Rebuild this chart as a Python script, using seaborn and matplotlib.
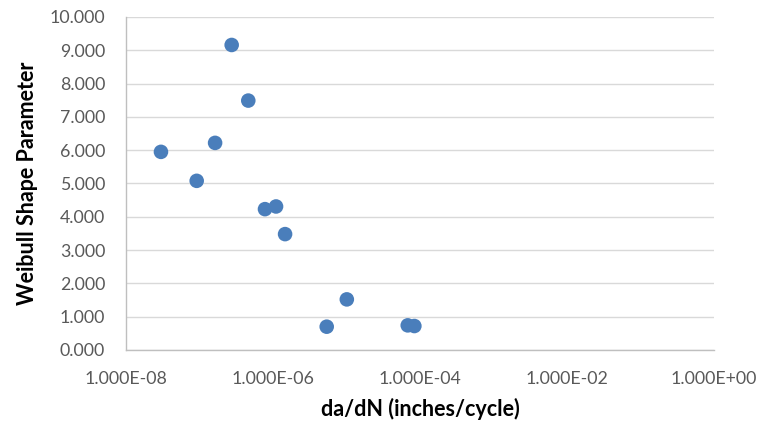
import matplotlib
matplotlib.use("Agg")
import matplotlib.pyplot as plt
import seaborn as sns
import numpy as np
import pandas as pd
from matplotlib.ticker import FixedLocator, FuncFormatter, NullLocator

# Data
crack_growth_rate = [2.99e-8, 9.16e-8, 1.63e-7, 2.74e-7, 4.61e-7, 7.78e-7,
                     1.10e-6, 1.46e-6, 5.38e-6, 1.01e-5, 6.81e-5, 8.38e-5]
shape_parameter = [5.95, 5.08, 6.22, 9.16, 7.49, 4.23,
                   4.31, 3.48, 0.70, 1.52, 0.74, 0.72]
x_ticks = [1e-8, 1e-6, 1e-4, 1e-2, 1e0]
x_tick_labels = ["1.000E-08", "1.000E-06", "1.000E-04", "1.000E-02", "1.000E+00"]
y_ticks = [0, 1, 2, 3, 4, 5, 6, 7, 8, 9, 10]

df = pd.DataFrame({"dadN": crack_growth_rate, "beta": shape_parameter})

sns.set_theme(style="white")
plt.rcParams['font.family'] = ['Lato', 'DejaVu Sans']

fig = plt.figure(figsize=(7.61, 4.26), dpi=100)
ax = fig.add_axes([126/761, 76/426, (714-126)/761, (350-17)/426])

sns.scatterplot(data=df, x="dadN", y="beta", ax=ax, s=110, color="#4a7ebb",
                edgecolor="none", zorder=3, legend=False)

ax.set_xscale("log")
ax.set_xlim(1e-8, 1e0)
ax.set_ylim(0, 10)
ax.xaxis.set_major_locator(FixedLocator(x_ticks))
ax.xaxis.set_minor_locator(NullLocator())
ax.set_xticklabels(x_tick_labels)
ax.set_yticks(y_ticks)
ax.yaxis.set_major_formatter(FuncFormatter(lambda v, p: f"{v:.3f}"))

ax.grid(axis="y", color="#d9d9d9", linewidth=1.0, zorder=0)
ax.grid(axis="x", visible=False)
for side in ["top", "right"]:
    ax.spines[side].set_visible(False)
for side in ["left", "bottom"]:
    ax.spines[side].set_color("#bfbfbf")
    ax.spines[side].set_linewidth(1.0)

ax.tick_params(axis="both", length=0, labelsize=12.8, labelcolor="#595959")
ax.tick_params(axis="y", pad=15)
ax.tick_params(axis="x", pad=15)

ax.set_xlabel("da/dN (inches/cycle)", fontsize=15.5, fontweight="bold",
              color="black", labelpad=8)
ax.set_ylabel("Weibull Shape Parameter", fontsize=15.5, fontweight="bold",
              color="black", labelpad=8)

fig.savefig("out.png", dpi=100)
